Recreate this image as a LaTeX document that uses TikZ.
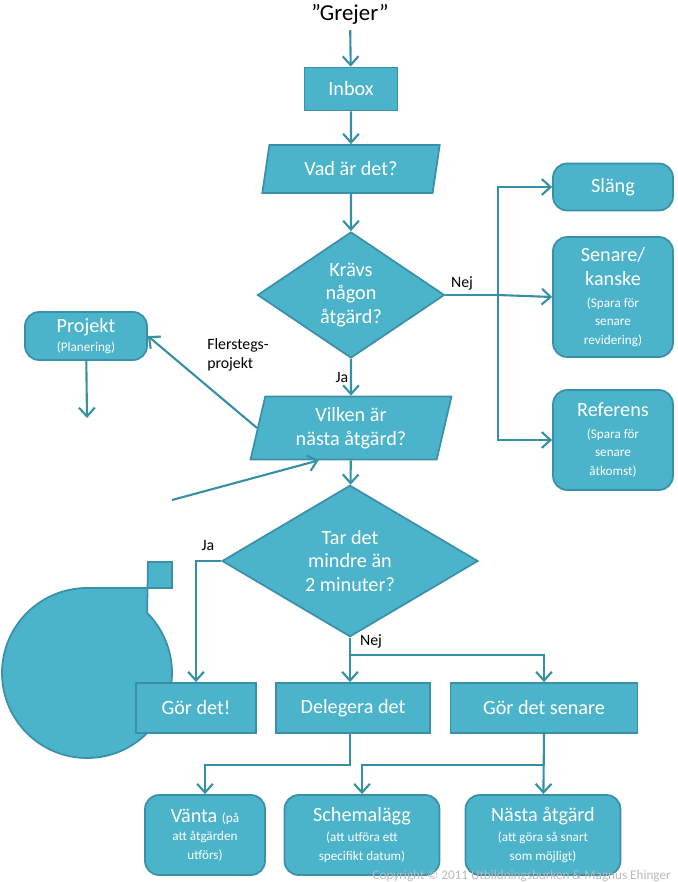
\documentclass[tikz,border=0pt]{standalone}
\usepackage{fontspec}
\setmainfont{Carlito}
\usetikzlibrary{shapes.geometric,arrows.meta}
\definecolor{boxfill}{HTML}{4BB4CB}
\definecolor{boxline}{HTML}{3A90A8}
\definecolor{flow}{HTML}{3590A6}
\newcommand{\subtxt}{\fontsize{7.5}{9}\selectfont}
\begin{document}
\begin{tikzpicture}[x=0.02cm,y=-0.02cm,
  box/.style={draw=boxline,fill=boxfill,line width=1pt,text=white,font=\fontsize{11.5}{13.5}\selectfont,align=center,inner sep=0pt},
  rbox/.style={box,rounded corners=8pt},
  para/.style={box,trapezium,trapezium left angle=74,trapezium right angle=106,trapezium stretches=true},
  choice/.style={box,diamond},
  flowline/.style={draw=flow,line width=1.2pt,-{Straight Barb[length=5pt,width=9pt]}},
  plainline/.style={draw=flow,line width=1.2pt},
  lbl/.style={font=\fontsize{9}{11}\selectfont,align=left,inner sep=1pt}]
\useasboundingbox (0,0) rectangle (677,882);

% top of the chain
\node (grejer) at (350,14) {\fontsize{13}{15}\selectfont ”Grejer”};
\node[box,minimum width=1.86cm,minimum height=0.86cm] (inbox) at (351,89) {Inbox};
\node[para,minimum width=3.56cm,minimum height=0.96cm] (vad) at (351,169) {Vad är det?};
\node[choice,minimum width=3.74cm,minimum height=2.52cm] (kravs) at (351,295) {Krävs\\någon\\åtgärd?};

% right column
\node[rbox,minimum width=2.4cm,minimum height=0.94cm] (slang) at (613,187) {Släng};
\node[rbox,minimum width=2.4cm,minimum height=2.4cm] (senare) at (613,297) {Senare/\\kanske\\[-1pt]{\subtxt (Spara för}\\[-3pt]{\subtxt senare}\\[-3pt]{\subtxt revidering)}};
\node[rbox,minimum width=2.4cm,minimum height=2cm] (referens) at (613,440) {Referens\\[-1pt]{\subtxt (Spara för}\\[-3pt]{\subtxt senare}\\[-3pt]{\subtxt åtkomst)}};
\coordinate (split) at (498,295);

% projects
\node[rbox,minimum width=2.44cm,minimum height=0.96cm] (projekt) at (86,336) {Projekt\\[-3pt]{\subtxt (Planering)}};
\filldraw[draw=boxline,fill=boxfill,line width=1pt]
  (87,588) arc[start angle=270,end angle=-45,radius=85] -- (148,562) -- (172,562) -- (172,588) -- cycle;
\node[text=white,align=center,font=\fontsize{13}{15}\selectfont] (planer) at (87,498) {Projekt-\\planer\\[-2pt]{\subtxt (Revideras för}\\[-3pt]{\subtxt åtgärder)}};
\coordinate (planerR) at (172,500);

\node[para,trapezium left angle=77,trapezium right angle=103,minimum width=4.04cm,minimum height=1.26cm] (vilken) at (351,428) {Vilken är\\nästa åtgärd?};
\node[choice,minimum width=5.12cm,minimum height=2.84cm] (tar) at (350,561) {Tar det\\mindre än\\2 minuter?};

% actions
\node[box,minimum width=2.4cm,minimum height=1cm] (gor) at (196,708) {Gör det!};
\node[box,minimum width=3.08cm,minimum height=1cm] (delegera) at (353,708) {Delegera det};
\node[box,minimum width=3.74cm,minimum height=1cm] (senaregor) at (544,708) {Gör det senare};
\node[rbox,minimum width=2.4cm,minimum height=1.6cm] (vanta) at (205,835) {Vänta {\subtxt (på}\\[-3pt]{\subtxt att åtgärden}\\[-3pt]{\subtxt utförs)}};
\node[rbox,minimum width=3.1cm,minimum height=1.6cm] (schema) at (362,835) {Schemalägg\\[-2pt]{\subtxt (att utföra ett}\\[-3pt]{\subtxt specifikt datum)}};
\node[rbox,minimum width=3.1cm,minimum height=1.6cm] (nasta) at (543,835) {Nästa åtgärd\\[-2pt]{\subtxt (att göra så snart}\\[-3pt]{\subtxt som möjligt)}};

% connectors
\draw[flowline] (grejer) -- (inbox);
\draw[flowline] (inbox) -- (vad);
\draw[flowline] (vad) -- (kravs);
\draw[plainline] (kravs.east) -- (split);
\draw[flowline] (split) |- (slang.west);
\draw[flowline] (split) -- (senare.west);
\draw[flowline] (split) |- (referens.west);
\node[lbl] (nej1) at (462,283) {Nej};
\draw[flowline] (kravs.south) -- node[lbl,left] (ja1) {Ja} (vilken);
\draw[flowline] (vilken.west) -- (projekt.east);
\node[lbl] (fler) at (238,355) {Flerstegs-\\projekt};
\draw[flowline] (projekt) -- (87,418);
\draw[flowline] (planerR) -- (vilken.south west);
\draw[flowline] (vilken) -- (tar);
\draw[flowline] (tar.west) -- (196,561) -- (gor);
\node[lbl] (ja2) at (208,545) {Ja};
\draw[flowline] (tar.south) -- (delegera.north -| tar.south);
\coordinate (nejsplit) at (350,655);
\draw[flowline] (nejsplit) -| (senaregor.north);
\node[lbl] (nej2) at (371,641) {Nej};
\draw[flowline] (delegera.south -| 350,0) |- (205,765) -- (vanta);
\draw[flowline] (senaregor.south) -- (nasta);
\draw[flowline] (544,765) -| (schema.north);

\node[text=gray!55,font=\fontsize{7.5}{9}\selectfont,anchor=east] (copy) at (677,876) {Copyright © 2011 Utbildningsburken \& Magnus Ehinger};
\end{tikzpicture}
\end{document}
